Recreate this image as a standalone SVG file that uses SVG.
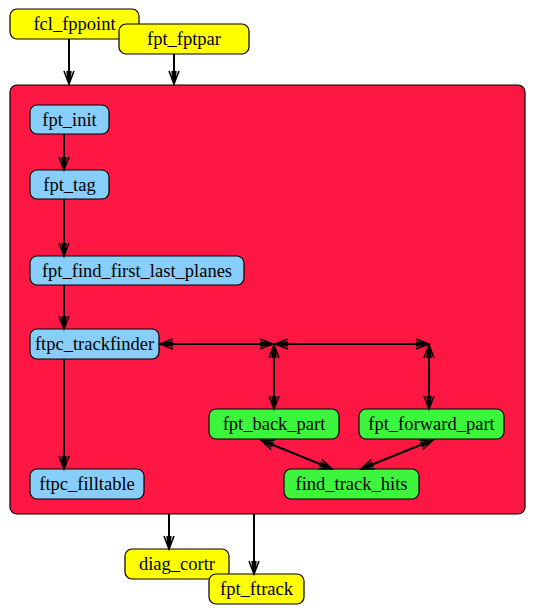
<svg xmlns="http://www.w3.org/2000/svg" width="536" height="616" viewBox="0 0 536 616">
<style>
.n rect{stroke:#000;stroke-width:1.2}
.y rect{fill:#ffff00}
.b rect{fill:#87cefa}
.g rect{fill:#3cf53c}
text{font-family:'Liberation Serif','DejaVu Serif',serif;font-size:18.5px;fill:#000;text-anchor:middle}
.e{stroke:#000;stroke-width:2;fill:none;marker-end:url(#a)}
.d{marker-start:url(#a)}
</style>
<defs>
<marker id="a" viewBox="-15 -7 17 14" refX="0" refY="0" markerWidth="17" markerHeight="14" markerUnits="userSpaceOnUse" orient="auto-start-reverse">
<path d="M-13,-5 L0,0 L-13,5 M-13,-2 L-1,0 L-13,2" fill="none" stroke="#000" stroke-width="1.6"/>
</marker>
</defs>
<rect id="cluster" x="10" y="85" width="515" height="429" rx="7" fill="#ff1744" stroke="#000" stroke-width="1.2"/>
<g font-family="Liberation Serif, serif">
<g id="fcl_fppoint" class="n y"><rect x="10" y="9" width="129" height="30" rx="7"/><text x="74.5" y="30">fcl_fppoint</text></g>
<g id="fpt_fptpar" class="n y"><rect x="119" y="24" width="130" height="30" rx="7"/><text x="184" y="45">fpt_fptpar</text></g>
<g id="fpt_init" class="n b"><rect x="30" y="105" width="79" height="29" rx="7"/><text x="69.5" y="126">fpt_init</text></g>
<g id="fpt_tag" class="n b"><rect x="30" y="170" width="79" height="29" rx="7"/><text x="69.5" y="191">fpt_tag</text></g>
<g id="fpt_find_first_last_planes" class="n b"><rect x="30" y="256" width="214" height="29" rx="7"/><text x="137" y="277">fpt_find_first_last_planes</text></g>
<g id="ftpc_trackfinder" class="n b"><rect x="30" y="329" width="129" height="30" rx="7"/><text x="94.5" y="350">ftpc_trackfinder</text></g>
<g id="ftpc_filltable" class="n b"><rect x="30" y="469" width="114" height="30" rx="7"/><text x="87" y="490">ftpc_filltable</text></g>
<g id="fpt_back_part" class="n g"><rect x="209" y="409" width="130" height="30" rx="7"/><text x="274" y="430">fpt_back_part</text></g>
<g id="fpt_forward_part" class="n g"><rect x="359" y="409" width="145" height="30" rx="7"/><text x="431.5" y="430">fpt_forward_part</text></g>
<g id="find_track_hits" class="n g"><rect x="284" y="469" width="135" height="30" rx="7"/><text x="351.5" y="490">find_track_hits</text></g>
<g id="diag_cortr" class="n y"><rect x="125" y="549" width="104" height="30" rx="7"/><text x="177" y="570">diag_cortr</text></g>
<g id="fpt_ftrack" class="n y"><rect x="209" y="574" width="95" height="30" rx="7"/><text x="256.5" y="595">fpt_ftrack</text></g>
</g>
<g id="connectors">
<path class="e" d="M69,39 V84"/>
<path class="e" d="M174,54 V84"/>
<path class="e" d="M64,134 V170"/>
<path class="e" d="M64,199 V256"/>
<path class="e" d="M64,285 V329"/>
<path class="e" d="M64,359 V469"/>
<path class="e d" d="M160,344 H273"/>
<path class="e d" d="M275,344 H429"/>
<path class="e d" d="M274,345 V409"/>
<path class="e d" d="M429,345 V409"/>
<path class="e d" d="M261,440 L332,469"/>
<path class="e d" d="M433,440 L361,469"/>
<path class="e" d="M169,514 V549"/>
<path class="e" d="M254,514 V574"/>
</g>
</svg>
